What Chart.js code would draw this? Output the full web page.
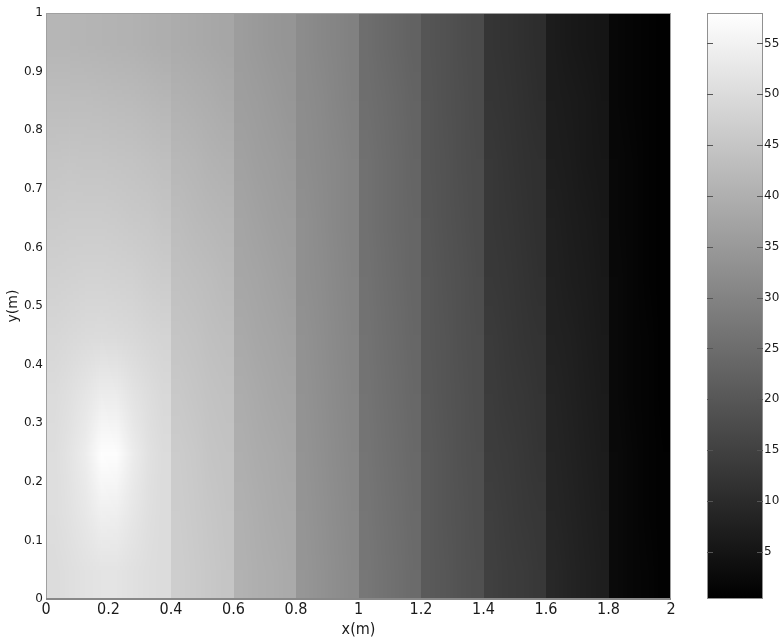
<!DOCTYPE html>
<html>
<head>
<meta charset="utf-8">
<script src="https://cdn.jsdelivr.net/npm/chart.js@4.4.1/dist/chart.umd.min.js"></script>
<style>
  html, body { margin: 0; padding: 0; background: #fff; }
</style>
</head>
<body>
<canvas id="plot" width="784" height="641"></canvas>
<script>
// cell centres of the sampled field (m)
const xCenters = [0.025, 0.075, 0.125, 0.175, 0.225, 0.275, 0.325, 0.375,
    0.425, 0.475, 0.525, 0.575, 0.625, 0.675, 0.725, 0.775, 0.825, 0.875, 0.925, 0.975,
    1.025, 1.075, 1.125, 1.175, 1.225, 1.275, 1.325, 1.375, 1.425, 1.475, 1.525, 1.575,
    1.625, 1.675, 1.725, 1.775, 1.825, 1.875, 1.925, 1.975];
const yCenters = [0.05, 0.15, 0.25, 0.35, 0.45, 0.55, 0.65, 0.75, 0.85, 0.95];
// the field jumps at these x (m), shading is smooth only inside a strip
const stripEdges = [0, 0.4, 0.6, 0.8, 1.0, 1.2, 1.4, 1.6, 1.8, 2.0];

// temperature, one row per y centre, bottom row first
const tempRows = [
    [50.2, 50.8, 51.4, 52.0, 52.0, 51.3, 50.6, 50.0, 47.0, 46.2, 45.5, 44.9, 40.6, 40.0, 39.4, 38.8, 34.2, 33.3, 32.4, 31.5, 27.2, 26.3, 25.4, 24.5, 20.8, 20.0, 19.2, 18.4, 14.8, 14.2, 13.6, 13.0, 9.3, 8.6, 7.9, 7.2, 2.6, 2.0, 1.4, 0.8],
    [50.6, 51.5, 52.8, 54.5, 54.3, 52.6, 51.0, 50.2, 46.8, 46.0, 45.3, 44.7, 40.3, 39.7, 39.1, 38.5, 34.0, 33.1, 32.2, 31.3, 27.0, 26.1, 25.2, 24.3, 20.7, 19.9, 19.1, 18.3, 14.5, 13.9, 13.3, 12.7, 9.0, 8.3, 7.6, 6.9, 2.5, 1.9, 1.3, 0.7],
    [50.6, 51.8, 54.0, 57.8, 57.5, 54.0, 51.5, 50.2, 46.4, 45.7, 45.0, 44.4, 39.9, 39.3, 38.7, 38.1, 33.7, 32.9, 32.0, 31.1, 26.8, 25.9, 25.0, 24.1, 20.6, 19.8, 19.0, 18.2, 14.2, 13.6, 13.0, 12.4, 8.7, 8.0, 7.3, 6.7, 2.5, 1.9, 1.3, 0.7],
    [50.0, 51.0, 52.3, 54.0, 53.8, 52.0, 50.5, 49.5, 45.8, 45.1, 44.5, 43.9, 39.4, 38.8, 38.2, 37.6, 33.5, 32.7, 31.8, 30.9, 26.6, 25.7, 24.8, 23.9, 20.4, 19.6, 18.8, 18.0, 13.9, 13.3, 12.7, 12.1, 8.4, 7.8, 7.1, 6.5, 2.4, 1.8, 1.2, 0.6],
    [48.9, 49.4, 49.8, 50.0, 49.8, 49.4, 48.8, 48.2, 45.0, 44.4, 43.8, 43.2, 38.8, 38.2, 37.6, 37.0, 33.3, 32.4, 31.6, 30.7, 26.4, 25.5, 24.6, 23.7, 20.3, 19.5, 18.7, 17.9, 13.6, 13.0, 12.4, 11.8, 8.1, 7.5, 6.9, 6.3, 2.3, 1.7, 1.2, 0.6],
    [47.6, 47.9, 48.0, 48.0, 47.8, 47.5, 47.0, 46.5, 44.0, 43.5, 43.0, 42.5, 38.2, 37.6, 37.0, 36.4, 33.0, 32.2, 31.4, 30.5, 26.2, 25.3, 24.4, 23.5, 20.2, 19.4, 18.6, 17.8, 13.3, 12.7, 12.1, 11.5, 7.8, 7.2, 6.6, 6.0, 2.3, 1.7, 1.1, 0.6],
    [46.3, 46.5, 46.5, 46.4, 46.2, 45.9, 45.5, 45.0, 43.0, 42.5, 42.0, 41.5, 37.6, 37.0, 36.4, 35.8, 32.8, 32.0, 31.2, 30.3, 26.0, 25.1, 24.2, 23.3, 20.0, 19.2, 18.4, 17.6, 13.1, 12.5, 11.9, 11.3, 7.5, 7.0, 6.4, 5.8, 2.2, 1.6, 1.1, 0.5],
    [45.0, 45.1, 45.0, 44.9, 44.7, 44.4, 44.0, 43.6, 41.9, 41.4, 40.9, 40.4, 37.0, 36.4, 35.8, 35.2, 32.5, 31.8, 31.0, 30.1, 25.8, 24.9, 24.0, 23.1, 19.9, 19.1, 18.3, 17.5, 12.9, 12.3, 11.7, 11.1, 7.2, 6.7, 6.1, 5.6, 2.1, 1.6, 1.0, 0.5],
    [43.4, 43.4, 43.3, 43.1, 42.9, 42.6, 42.2, 41.8, 40.6, 40.1, 39.6, 39.1, 36.4, 35.8, 35.2, 34.6, 32.2, 31.5, 30.7, 29.8, 25.5, 24.7, 23.8, 22.9, 19.7, 18.9, 18.1, 17.3, 12.6, 12.0, 11.4, 10.8, 6.9, 6.4, 5.9, 5.3, 2.0, 1.5, 1.0, 0.5],
    [41.4, 41.4, 41.2, 41.0, 40.8, 40.5, 40.1, 39.7, 39.2, 38.8, 38.3, 37.8, 35.8, 35.2, 34.6, 34.0, 32.0, 31.2, 30.4, 29.6, 25.3, 24.4, 23.5, 22.6, 19.6, 18.8, 18.0, 17.2, 12.4, 11.8, 11.2, 10.6, 6.6, 6.1, 5.6, 5.1, 2.0, 1.5, 1.0, 0.5],
];

const xTickValues = [0, 0.2, 0.4, 0.6, 0.8, 1, 1.2, 1.4, 1.6, 1.8, 2];
const xTickLabels = ['0', '0.2', '0.4', '0.6', '0.8', '1', '1.2', '1.4', '1.6', '1.8', '2'];
const yTickValues = [0, 0.1, 0.2, 0.3, 0.4, 0.5, 0.6, 0.7, 0.8, 0.9, 1];
const yTickLabels = ['0', '0.1', '0.2', '0.3', '0.4', '0.5', '0.6', '0.7', '0.8', '0.9', '1'];
const cbTickValues = [5, 10, 15, 20, 25, 30, 35, 40, 45, 50, 55];
const cbRange = [0.35, 58];

const narrow = "'Liberation Sans Narrow', 'DejaVu Sans Condensed', 'Liberation Sans', sans-serif";
const wide = "'DejaVu Sans', sans-serif";
const ink = '#1a1a1a';

function grayOf(v) {
    const t = Math.min(1, Math.max(0, (v - cbRange[0]) / (cbRange[1] - cbRange[0])));
    return Math.round(255 * t);
}

const heatmap = {
    id: 'heatmap',
    beforeDatasetsDraw(chart) {
        const { ctx, scales: { x, y } } = chart;
        const dy = yCenters[1] - yCenters[0];
        const top = Math.round(y.getPixelForValue(yCenters[yCenters.length - 1] + dy / 2));
        const bottom = Math.round(y.getPixelForValue(yCenters[0] - dy / 2));
        const nRows = yCenters.length;

        for (let s = 0; s < stripEdges.length - 1; s++) {
            const a = stripEdges[s], b = stripEdges[s + 1];
            const cols = [];
            xCenters.forEach((cx, i) => { if (cx > a && cx < b) cols.push(i); });

            // one pixel per cell, scaled up with smoothing inside the strip only
            const off = document.createElement('canvas');
            off.width = cols.length; off.height = nRows;
            const octx = off.getContext('2d');
            const img = octx.createImageData(cols.length, nRows);
            for (let r = 0; r < nRows; r++) {
                const row = tempRows[nRows - 1 - r];
                cols.forEach((ci, c) => {
                    const g = grayOf(row[ci]);
                    const k = (r * cols.length + c) * 4;
                    img.data[k] = g; img.data[k + 1] = g; img.data[k + 2] = g; img.data[k + 3] = 255;
                });
            }
            octx.putImageData(img, 0, 0);

            const left = Math.round(x.getPixelForValue(a));
            const right = Math.round(x.getPixelForValue(b));
            ctx.save();
            ctx.imageSmoothingEnabled = true;
            ctx.imageSmoothingQuality = 'low';
            ctx.drawImage(off, left, top, right - left, bottom - top);
            ctx.restore();
        }
    },
    afterDraw(chart) {
        const { ctx, chartArea: ca, scales: { cb } } = chart;
        ctx.save();
        // axes box
        ctx.strokeStyle = '#a0a0a0';
        ctx.lineWidth = 1;
        ctx.strokeRect(ca.left + 0.5, ca.top + 0.5, ca.width - 1, ca.height - 1);
        ctx.strokeStyle = '#888';
        ctx.lineWidth = 2;
        ctx.beginPath();
        ctx.moveTo(ca.left, ca.bottom);
        ctx.lineTo(ca.right, ca.bottom);
        ctx.stroke();

        // colour bar
        const barL = cb.left + 36, barW = 56;
        const top = cb.getPixelForValue(cbRange[1]);
        const bot = cb.getPixelForValue(cbRange[0]);
        const grad = ctx.createLinearGradient(0, bot, 0, top);
        grad.addColorStop(0, '#000');
        grad.addColorStop(1, '#fff');
        ctx.fillStyle = grad;
        ctx.fillRect(barL, top, barW, bot - top);
        ctx.strokeStyle = '#909090';
        ctx.lineWidth = 1;
        ctx.strokeRect(barL + 0.5, top + 0.5, barW - 1, bot - top - 1);
        ctx.strokeStyle = '#555';
        cbTickValues.forEach(v => {
            const py = Math.round(cb.getPixelForValue(v)) + 0.5;
            ctx.beginPath();
            ctx.moveTo(barL, py); ctx.lineTo(barL + 6, py);
            ctx.moveTo(barL + barW - 6, py); ctx.lineTo(barL + barW, py);
            ctx.stroke();
        });
        ctx.restore();
    }
};

new Chart(document.getElementById('plot'), {
    type: 'scatter',
    data: { datasets: [{ data: [], pointRadius: 0, xAxisID: 'x', yAxisID: 'y' }] },
    options: {
        responsive: false, animation: false, devicePixelRatio: 1,
        layout: { padding: { top: 13, left: 0, right: 0, bottom: 0 } },
        plugins: { legend: { display: false }, tooltip: { enabled: false } },
        scales: {
            x: {
                type: 'linear', position: 'bottom', min: 0, max: 2,
                afterBuildTicks: s => { s.ticks = xTickValues.map(v => ({ value: v })); },
                afterFit: s => { s.height = 42; },
                grid: { display: false, drawTicks: false },
                border: { display: false },
                ticks: { autoSkip: false, maxRotation: 0, padding: 1, color: ink,
                         font: { family: narrow, size: 16 }, callback: (v, i) => xTickLabels[i] },
                title: { display: true, text: 'x(m)', color: ink,
                         font: { family: narrow, size: 16 }, padding: { top: 0, bottom: 2 } },
            },
            y: {
                type: 'linear', position: 'left', min: 0, max: 1,
                afterBuildTicks: s => { s.ticks = yTickValues.map(v => ({ value: v })); },
                afterFit: s => { s.width = 46; },
                grid: { display: false, drawTicks: false },
                border: { display: false },
                ticks: { autoSkip: false, padding: 3, color: ink,
                         font: { family: wide, size: 12 }, callback: (v, i) => yTickLabels[i] },
                title: { display: true, text: 'y(m)', color: ink,
                         font: { family: wide, size: 14 }, padding: { top: 5, bottom: 0 } },
            },
            cb: {
                type: 'linear', axis: 'y', position: 'right', min: cbRange[0], max: cbRange[1],
                afterBuildTicks: s => { s.ticks = cbTickValues.map(v => ({ value: v })); },
                // labels sit far right of the axis edge; keep that gap out of the vertical padding
                afterFit: s => { s.width = 113; s.paddingTop = 0; s.paddingBottom = 0; },
                grid: { display: false, drawTicks: false },
                border: { display: false },
                ticks: { autoSkip: false, padding: 93, color: ink,
                         font: { family: wide, size: 12 }, callback: v => String(v) },
            },
        },
    },
    plugins: [heatmap],
});
</script>
</body>
</html>
